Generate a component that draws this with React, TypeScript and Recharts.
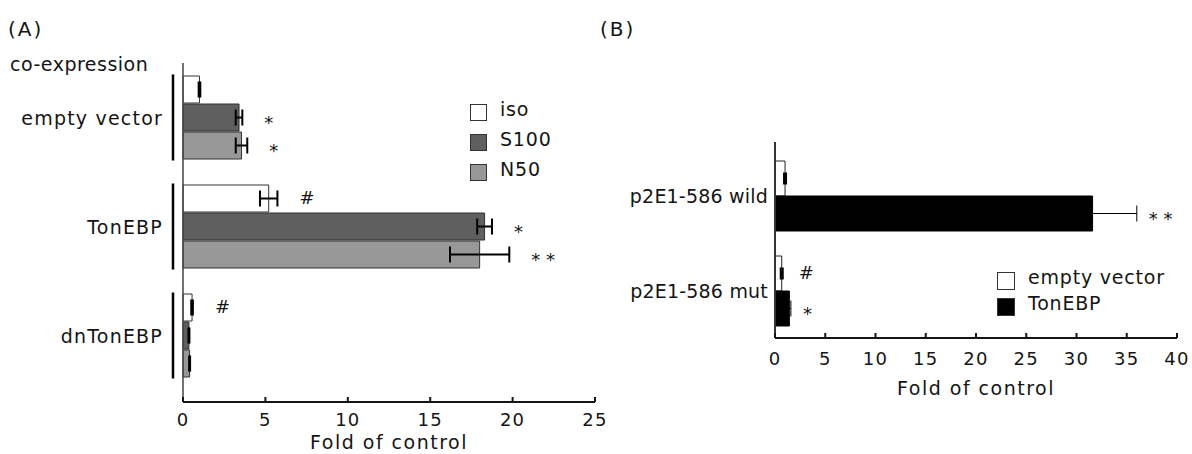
import { BarChart, Bar, XAxis, YAxis, ErrorBar, LabelList, Legend, Label } from 'recharts';

// Panel A: co-expression, fold of control
const categoriesA = ['empty vector', 'TonEBP', 'dnTonEBP'];
const seriesNamesA = ['iso', 'S100', 'N50'];
const isoA = [1.0, 5.2, 0.55];
const isoErrA = [0.05, 0.53, 0.05];
const s100A = [3.4, 18.3, 0.36];
const s100ErrA = [0.2, 0.45, 0.03];
const n50A = [3.55, 18.0, 0.4];
const n50ErrA = [0.35, 1.8, 0.03];
const isoMarkA = ['', '#', '#'];
const s100MarkA = ['*', '*', ''];
const n50MarkA = ['*', '* *', ''];
const ticksA = [0, 5, 10, 15, 20, 25];

// Panel B: reporter constructs
const categoriesB = ['p2E1-586 wild', 'p2E1-586 mut'];
const seriesNamesB = ['empty vector', 'TonEBP'];
const emptyB = [1.0, 0.67];
const emptyErrB = [0.1, 0.1];
const tonB = [31.6, 1.43];
const tonErrB = [4.4, 0.15];
const emptyMarkB = ['', '#'];
const tonMarkB = ['* *', '*'];
const ticksB = [0, 5, 10, 15, 20, 25, 30, 35, 40];

const FONT = '"DejaVu Sans", sans-serif';
const INK = '#151515';

const dataA = categoriesA.map((name, i) => ({
  name,
  iso: isoA[i], isoErr: isoErrA[i], isoMark: isoMarkA[i],
  s100: s100A[i], s100Err: s100ErrA[i], s100Mark: s100MarkA[i],
  n50: n50A[i], n50Err: n50ErrA[i], n50Mark: n50MarkA[i],
}));

const dataB = categoriesB.map((name, i) => ({
  name,
  empty: emptyB[i], emptyErr: emptyErrB[i], emptyMark: emptyMarkB[i],
  ton: tonB[i], tonErr: tonErrB[i], tonMark: tonMarkB[i],
}));

// significance marks placed just past the error bar end
const markContent = (vals: number[], errs: number[], gap: number) => (props: any) => {
  const vb = props.viewBox && props.viewBox.width != null ? props.viewBox : props;
  const { x, y, width, height } = vb;
  const i = props.index ?? 0;
  const value = props.value;
  if (!value) return null;
  const pxPer = width / vals[i];
  const xs = x + width + errs[i] * pxPer + gap;
  const star = String(value).includes('*');
  return (
    <text x={xs} y={y + height / 2 + (star ? 5 : -1)} dominantBaseline="central"
      fontFamily={FONT} fontSize={18} fill={INK}>
      {value}
    </text>
  );
};

const NumTick = ({ x, y, payload, dy }: any) => (
  <g>
    <line x1={x} y1={y} x2={x} y2={y - 5} stroke={INK} strokeWidth={2} />
    <text x={x} y={y + dy} textAnchor="middle" dominantBaseline="central"
      fontFamily={FONT} fontSize={18} letterSpacing={1.2} fill={INK}>
      {payload.value}
    </text>
  </g>
);

const GroupTick = ({ x, y, payload, bracket, spacing }: any) => (
  <g>
    {bracket && <line x1={x + 10} y1={y - 43} x2={x + 10} y2={y + 43} stroke="#000" strokeWidth={2.5} />}
    <text x={x} y={y} textAnchor="end" dominantBaseline="central"
      fontFamily={FONT} fontSize={19} letterSpacing={spacing} fill={INK}>
      {payload.value}
    </text>
  </g>
);

const axisTitle = (dy: number) => (props: any) => {
  const vb = props.viewBox;
  return (
    <text x={vb.x + vb.width / 2} y={vb.y + dy} textAnchor="middle" dominantBaseline="central"
      fontFamily={FONT} fontSize={19} letterSpacing={1.5} fill={INK}>
      Fold of control
    </text>
  );
};

const LegendBox = ({ payload, order, box, row, textUp }: any) => {
  const items = [...(payload || [])].sort((a: any, b: any) => order.indexOf(a.value) - order.indexOf(b.value));
  return (
    <div style={{ fontFamily: FONT, fontSize: 19, letterSpacing: 0.8, color: INK }}>
      {items.map((e: any) => (
        <div key={e.value} style={{ display: 'flex', alignItems: 'center', height: row }}>
          <div style={{
            width: box, height: box, boxSizing: 'border-box', flex: 'none',
            background: e.payload?.fill ?? e.color, border: '1.5px solid #333',
          }} />
          <span style={{ marginLeft: 13, position: 'relative', top: -textUp, whiteSpace: 'nowrap' }}>{e.value}</span>
        </div>
      ))}
    </div>
  );
};

function PanelA() {
  return (
    <BarChart width={620} height={454} data={dataA} layout="vertical"
      margin={{ top: 63, right: 25, left: 0, bottom: 0 }} barGap={1} barSize={27}>
      <XAxis type="number" domain={[0, 25]} ticks={ticksA} interval={0}
        height={52} tickSize={0} tickMargin={0}
        axisLine={{ stroke: INK, strokeWidth: 2 }} tickLine={false}
        tick={(p: any) => <NumTick {...p} dy={17} />}>
        <Label content={axisTitle(40)} />
      </XAxis>
      <XAxis xAxisId="top" orientation="top" type="number" domain={[0, 25]} height={0}
        tick={false} tickLine={false} axisLine={{ stroke: '#444', strokeWidth: 1.5 }} />
      <YAxis type="category" dataKey="name" width={183} tickSize={0} tickMargin={20}
        padding={{ top: 0, bottom: 12 }} axisLine={{ stroke: '#444', strokeWidth: 1.5 }} tickLine={false}
        tick={(p: any) => <GroupTick {...p} bracket spacing={1.2} />} />
      <YAxis yAxisId="right" orientation="right" type="category" dataKey="name" width={0}
        tick={false} tickLine={false} axisLine={{ stroke: '#444', strokeWidth: 1.5 }} />
      <Legend layout="vertical" align="center" verticalAlign="middle"
        wrapperStyle={{ position: 'absolute', left: 470, top: 97, width: 'auto' }}
        content={(p: any) => <LegendBox {...p} order={seriesNamesA} box={17} row={30} textUp={3} />} />
      <Bar dataKey="iso" name={seriesNamesA[0]} fill="#ffffff" stroke="#333" strokeWidth={1} isAnimationActive={false}>
        <ErrorBar dataKey="isoErr" direction="x" width={8} stroke="#000" strokeWidth={2} />
        <LabelList dataKey="isoMark" content={markContent(isoA, isoErrA, 22)} />
      </Bar>
      <Bar dataKey="s100" name={seriesNamesA[1]} fill="#5f5f5f" stroke="#333" strokeWidth={1} isAnimationActive={false}>
        <ErrorBar dataKey="s100Err" direction="x" width={8} stroke="#000" strokeWidth={2} />
        <LabelList dataKey="s100Mark" content={markContent(s100A, s100ErrA, 22)} />
      </Bar>
      <Bar dataKey="n50" name={seriesNamesA[2]} fill="#989898" stroke="#333" strokeWidth={1} isAnimationActive={false}>
        <ErrorBar dataKey="n50Err" direction="x" width={8} stroke="#000" strokeWidth={2} />
        <LabelList dataKey="n50Mark" content={markContent(n50A, n50ErrA, 22)} />
      </Bar>
    </BarChart>
  );
}

function PanelB() {
  return (
    <BarChart width={592} height={454} data={dataB} layout="vertical"
      margin={{ top: 142, right: 15, left: 0, bottom: 0 }} barGap={0} barSize={35}>
      <XAxis type="number" domain={[0, 40]} ticks={ticksB} interval={0}
        height={116} tickSize={0} tickMargin={0}
        axisLine={{ stroke: INK, strokeWidth: 2 }} tickLine={false}
        tick={(p: any) => <NumTick {...p} dy={20} />}>
        <Label content={axisTitle(50)} />
      </XAxis>
      <XAxis xAxisId="top" orientation="top" type="number" domain={[0, 40]} height={0}
        tick={false} tickLine={false} axisLine={{ stroke: '#111', strokeWidth: 2 }} />
      <YAxis type="category" dataKey="name" width={175} tickSize={0} tickMargin={7}
        padding={{ top: 6, bottom: 0 }} axisLine={{ stroke: '#333', strokeWidth: 2 }} tickLine={false}
        tick={(p: any) => <GroupTick {...p} spacing={0.2} />} />
      <YAxis yAxisId="right" orientation="right" type="category" dataKey="name" width={0}
        tick={false} tickLine={false} axisLine={{ stroke: '#111', strokeWidth: 2 }} />
      <Legend layout="vertical" align="center" verticalAlign="middle"
        wrapperStyle={{ position: 'absolute', left: 397, top: 268, width: 'auto' }}
        content={(p: any) => <LegendBox {...p} order={seriesNamesB} box={18} row={26} textUp={4} />} />
      <Bar dataKey="empty" name={seriesNamesB[0]} fill="#ffffff" stroke="#222" strokeWidth={1} isAnimationActive={false}>
        <ErrorBar dataKey="emptyErr" direction="x" width={6} stroke="#000" strokeWidth={2} />
        <LabelList dataKey="emptyMark" content={markContent(emptyB, emptyErrB, 16)} />
      </Bar>
      <Bar dataKey="ton" name={seriesNamesB[1]} fill="#000000" stroke="#000" strokeWidth={1} isAnimationActive={false}>
        <ErrorBar dataKey="tonErr" direction="x" width={8} stroke="#000" strokeWidth={1} />
        <LabelList dataKey="tonMark" content={markContent(tonB, tonErrB, 12)} />
      </Bar>
    </BarChart>
  );
}

export default function App() {
  const tag = { position: 'absolute' as const, fontFamily: FONT, color: INK, lineHeight: 1 };
  return (
    <div style={{ position: 'fixed', left: 0, top: 0, width: 1192, height: 454, background: '#fff', overflow: 'hidden' }}>
      <div style={{ ...tag, left: 8, top: 19, fontSize: 20, letterSpacing: 2 }}>(A)</div>
      <div style={{ ...tag, left: 600, top: 19, fontSize: 20, letterSpacing: 2 }}>(B)</div>
      <div style={{ ...tag, left: 10, top: 55, fontSize: 19, letterSpacing: 0.5 }}>co-expression</div>
      <div style={{ position: 'absolute', left: 0, top: 0 }}>
        <PanelA />
      </div>
      <div style={{ position: 'absolute', left: 600, top: 0 }}>
        <PanelB />
      </div>
    </div>
  );
}
